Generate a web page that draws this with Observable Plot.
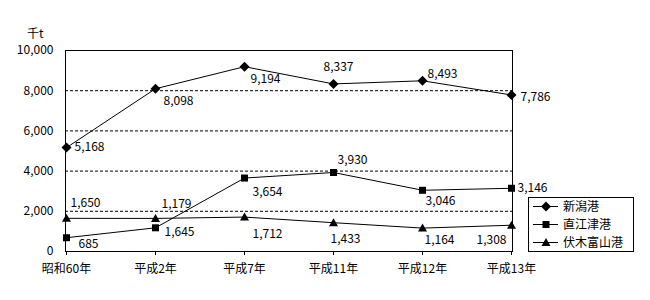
<!DOCTYPE html>
<html>
<head>
<meta charset="utf-8">
<script src="https://cdn.jsdelivr.net/npm/d3@7"></script>
<script src="https://cdn.jsdelivr.net/npm/@observablehq/plot@0.6"></script>
<style>
  html, body { margin: 0; padding: 0; background: #fff; }
  #wrap { position: relative; width: 650px; height: 300px; font-family: "MS Gothic", "Noto Sans CJK JP", sans-serif; }
  #unit { position: absolute; left: 27px; top: 26px; font-size: 12px; line-height: 14px; }
  #legend { position: absolute; left: 528px; top: 197px; }
</style>
</head>
<body>
<div id="wrap">
  <div id="unit">千t</div>
  <div id="legend"></div>
</div>
<script>
// ---- data ----
const years = ["昭和60年", "平成2年", "平成7年", "平成11年", "平成12年", "平成13年"];
const seriesNames = ["新潟港", "直江津港", "伏木富山港"];
const niigata = [5168, 8098, 9194, 8337, 8493, 7786];
const naoetsu = [685, 1179, 3654, 3930, 3046, 3146];
const fushiki = [1650, 1645, 1712, 1433, 1164, 1308];
const yTicks = [0, 2000, 4000, 6000, 8000, 10000];
const gridTicks = [2000, 4000, 6000, 8000];

// ---- label placement (offsets in px from each point) ----
const labelOffsets = {
  "新潟港":   [[8, 0], [8, 12], [6, 12], [-10, -17], [5, -7], [9, 2]],
  "直江津港": [[12, 6], [6, -24], [8, 14], [4, -12], [3, 11], [6, 0]],
  "伏木富山港": [[4, -15], [9, 14], [8, 17], [-3, 16], [2, 12], [-35, 15]]
};

// ---- custom symbols ----
const diamond = { draw(ctx) { const r = 5; ctx.moveTo(0, -r); ctx.lineTo(r, 0); ctx.lineTo(0, r); ctx.lineTo(-r, 0); ctx.closePath(); } };
const square = { draw(ctx) { const h = 3.5; ctx.moveTo(-h, -h); ctx.lineTo(h, -h); ctx.lineTo(h, h); ctx.lineTo(-h, h); ctx.closePath(); } };
const triangle = { draw(ctx) { ctx.moveTo(0, -4.5); ctx.lineTo(4.5, 3.5); ctx.lineTo(-4.5, 3.5); ctx.closePath(); } };
const symbols = { "新潟港": diamond, "直江津港": square, "伏木富山港": triangle };

const valuesBySeries = { "新潟港": niigata, "直江津港": naoetsu, "伏木富山港": fushiki };
const rows = [];
for (const s of seriesNames) {
  valuesBySeries[s].forEach((v, i) => rows.push({ series: s, year: years[i], value: v, i }));
}

const fmt = d3.format(",");
const font = '"MS Gothic", "Noto Sans CJK JP", sans-serif';

const marks = [
  Plot.ruleY(gridTicks, { stroke: "#000", strokeDasharray: "3,2", strokeWidth: 1 }),
  Plot.frame({ stroke: "#000" })
];
for (const s of seriesNames) {
  const d = rows.filter(r => r.series === s);
  marks.push(Plot.line(d, { x: "year", y: "value", stroke: "#000", strokeWidth: 1 }));
  marks.push(Plot.dot(d, { x: "year", y: "value", symbol: () => symbols[s], fill: "#000", stroke: "none", r: 4 }));
  d.forEach((row, k) => {
    const [dx, dy] = labelOffsets[s][k];
    marks.push(Plot.text([row], { x: "year", y: "value", text: r => fmt(r.value), dx, dy, textAnchor: "start", fill: "#000", fontSize: 12 }));
  });
}

const chart = Plot.plot({
  width: 650,
  height: 300,
  marginLeft: 65,
  marginRight: 138,
  marginTop: 50,
  marginBottom: 49,
  style: { fontFamily: font, fontSize: "12px", background: "transparent", color: "#000" },
  x: { type: "point", domain: years, padding: 0, label: null, tickSize: 4, tickPadding: 9 },
  y: { domain: [0, 10000], ticks: yTicks, tickFormat: fmt, label: null, tickSize: 0, tickPadding: 12 },
  symbol: { type: "identity" },
  marks
});
chart.style.position = "absolute";
chart.style.left = "0px";
chart.style.top = "0px";
document.getElementById("wrap").insertBefore(chart, document.getElementById("legend"));

// ---- legend ----
const lw = 106, lh = 55;
const lsvg = d3.select("#legend").append("svg").attr("width", lw).attr("height", lh)
  .style("font-family", font).style("font-size", "12px");
lsvg.append("rect").attr("x", 0.5).attr("y", 0.5).attr("width", lw - 1).attr("height", lh - 1)
  .attr("fill", "#fff").attr("stroke", "#000");
seriesNames.forEach((s, i) => {
  const cy = 9.5 + i * 18;
  const g = lsvg.append("g");
  g.append("line").attr("x1", 5).attr("x2", 30).attr("y1", cy).attr("y2", cy).attr("stroke", "#000");
  g.append("path").attr("d", d3.symbol(symbols[s])()).attr("transform", `translate(18,${cy})`).attr("fill", "#000");
  g.append("text").attr("x", 35).attr("y", cy).attr("dy", "0.35em").text(s);
});
</script>
</body>
</html>
